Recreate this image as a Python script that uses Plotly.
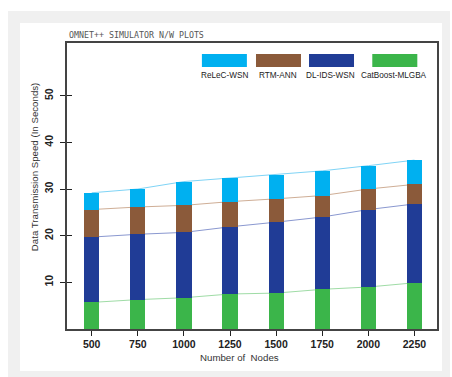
import numpy as np
import plotly.graph_objects as go

# ---------------- data ----------------
nodes = ["500", "750", "1000", "1250", "1500", "1750", "2000", "2250"]
catboost_mlgba = [5.7, 6.3, 6.7, 7.5, 7.7, 8.5, 9.0, 9.9]
dl_ids_wsn = [14.0, 14.0, 14.0, 14.4, 15.2, 15.5, 16.6, 16.9]
rtm_ann = [5.9, 5.85, 5.8, 5.4, 5.0, 4.6, 4.4, 4.2]
relec_wsn = [3.6, 3.85, 5.1, 5.1, 5.2, 5.3, 5.0, 5.2]
y_ticks = [10, 20, 30, 40, 50]

series = [
    ("CatBoost-MLGBA", catboost_mlgba, "#3bb54a", "#9fdca6"),
    ("DL-IDS-WSN", dl_ids_wsn, "#203c96", "#8a98d0"),
    ("RTM-ANN", rtm_ann, "#8b5a3a", "#cfae96"),
    ("ReLeC-WSN", relec_wsn, "#00b0f0", "#7fd4f6"),
]

YMAX = 61.3
XR = [-0.536, 7.49]

fig = go.Figure()

# connecting lines at the stacked tops (main axes, drawn beneath the bars)
cum = np.zeros(len(nodes))
for name, vals, col, lcol in series:
    cum = cum + np.array(vals)
    fig.add_trace(go.Scatter(x=nodes, y=cum.tolist(), mode="lines",
                             line=dict(color=lcol, width=1),
                             showlegend=False, hoverinfo="skip",
                             xaxis="x", yaxis="y"))

# stacked bars (overlay axes so they are drawn above the lines)
for name, vals, col, lcol in series:
    fig.add_trace(go.Bar(x=nodes, y=vals, name=name, marker_color=col,
                         marker_line_width=0, width=0.33,
                         xaxis="x2", yaxis="y2", showlegend=False))

tickfont = dict(family="Liberation Sans, Arial, sans-serif", size=10.5,
                color="#222222", weight="bold")

fig.update_layout(
    width=452, height=377,
    margin=dict(l=67, r=15, t=43, b=48),
    paper_bgcolor="white", plot_bgcolor="white",
    barmode="stack",
    showlegend=False,
    xaxis=dict(type="category", range=XR, showgrid=False, zeroline=False,
               showline=True, linecolor="#444444", linewidth=1.5, mirror=True,
               ticks="outside", ticklen=5, tickwidth=1, tickcolor="#222222",
               tickfont=tickfont),
    yaxis=dict(range=[0, YMAX], tickvals=y_ticks, showgrid=False, zeroline=False,
               showline=True, linecolor="#444444", linewidth=1.5, mirror=True,
               ticks="outside", ticklen=5, tickwidth=1, tickcolor="#222222",
               tickangle=-90, tickfont=tickfont, ticklabelstandoff=3),
    xaxis2=dict(type="category", range=XR, overlaying="x", visible=False),
    yaxis2=dict(range=[0, YMAX], overlaying="y", tickvals=y_ticks,
                showgrid=False, zeroline=False, showline=False,
                ticks="inside", ticklen=5, tickwidth=1, tickcolor="#222222",
                showticklabels=False),
)

shapes = [
    dict(type="rect", xref="paper", yref="paper", x0=-0.1595, x1=1.035,
         y0=-0.25, y1=1.112, fillcolor="#f0f0f0", line_width=0, layer="below"),
    dict(type="rect", xref="paper", yref="paper", x0=-0.127, x1=1.0135,
         y0=-0.1469, y1=1.07, fillcolor="white", line_width=0, layer="below"),
]

# legend swatches above labels
legend_items = [
    ("ReLeC-WSN", "#00b0f0", 0.3646, 0.4862, 0.4257),
    ("RTM-ANN", "#8b5a3a", 0.5108, 0.6324, 0.5703),
    ("DL-IDS-WSN", "#203c96", 0.6541, 0.7757, 0.7135),
    ("CatBoost-MLGBA", "#3bb54a", 0.8251, 0.9468, 0.884),
]
annotations = []
for name, col, x0, x1, xc in legend_items:
    shapes.append(dict(type="rect", xref="paper", yref="paper", x0=x0, x1=x1,
                       y0=0.916, y1=0.9615, fillcolor=col, line_width=0))
    annotations.append(dict(text=name, xref="paper", yref="paper", x=xc, y=0.885,
                            xanchor="center", yanchor="middle", showarrow=False,
                            font=dict(family="Liberation Sans, Arial, sans-serif",
                                      size=8.2, color="#222222")))

annotations += [
    dict(text="OMNET++ SIMULATOR N/W PLOTS", xref="paper", yref="paper",
         x=0.0, y=1.028, xanchor="left", yanchor="middle", showarrow=False,
         font=dict(family="DejaVu Sans Mono, monospace", size=8.3, color="#555555")),
    dict(text="Data Transmission Speed (In Seconds)", xref="paper", yref="paper",
         x=-0.089, y=0.566, xanchor="center", yanchor="middle", showarrow=False,
         textangle=-90,
         font=dict(family="Liberation Sans, Arial, sans-serif", size=9.7, color="#333333")),
    dict(text="Number of \u00a0Nodes", xref="paper", yref="paper",
         x=0.467, y=-0.101, xanchor="center", yanchor="middle", showarrow=False,
         font=dict(family="Liberation Sans, Arial, sans-serif", size=9.7, color="#333333")),
]

fig.update_layout(shapes=shapes, annotations=annotations)

fig.write_html("out.html",
               config={"displayModeBar": False},
               post_script="document.body.style.margin='0px';"
                           "document.body.style.overflow='hidden';")
